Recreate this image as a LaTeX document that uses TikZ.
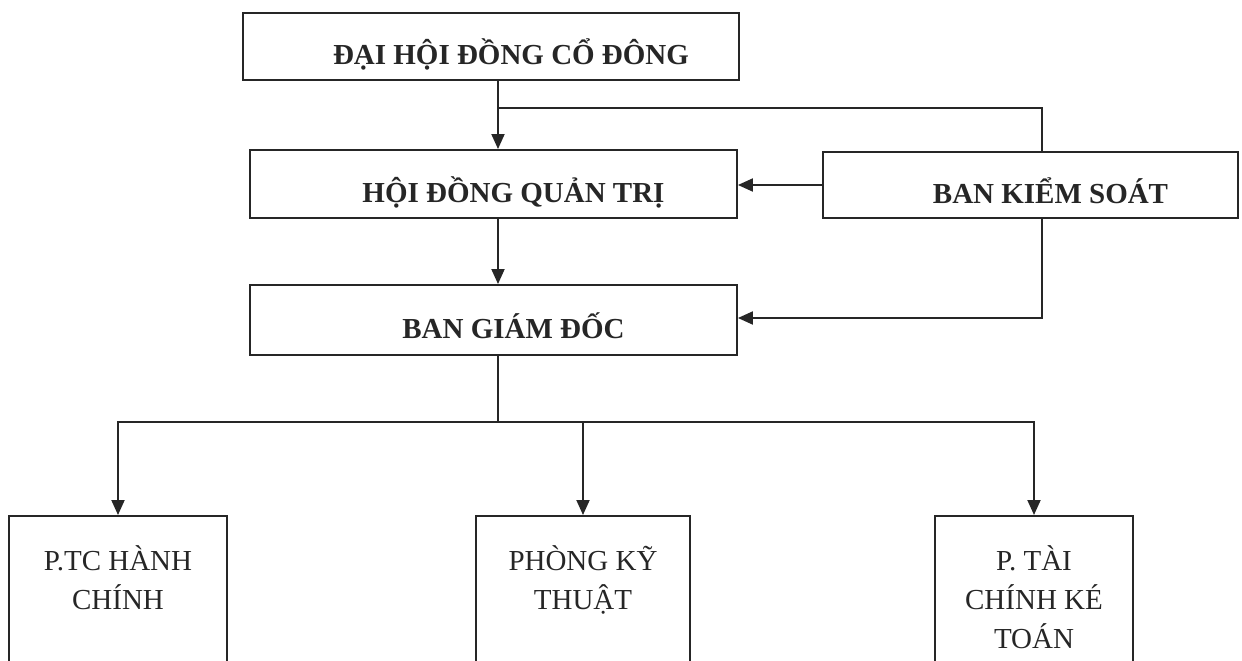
\documentclass[tikz,border=0pt]{standalone}
\usepackage{fontspec}
\setmainfont{Liberation Serif}
\usetikzlibrary{arrows.meta,positioning,calc}
\definecolor{ink}{HTML}{262626}
\newcommand{\deptname}[1]{\parbox[t][3.4cm][t]{3.6cm}{\centering\strut #1}}

\begin{document}
\begin{tikzpicture}[x=0.02cm,y=-0.02cm,color=ink,line width=1.1pt,
  >={Triangle[length=0.3cm,width=0.26cm]},
  topbox/.style={draw,rectangle,font=\fontsize{16.5}{20}\selectfont\bfseries,
    text height=21pt,text depth=0pt,execute at begin node=\hspace*{0.8cm}},
  deptbox/.style={draw,rectangle,anchor=north,inner ysep=15.9pt,
    font=\fontsize{16.5}{22}\selectfont}]
\useasboundingbox (0,0) rectangle (1242,660);
\clip (0,0) rectangle (1242,660);

\node[topbox,minimum width=9.92cm,minimum height=1.34cm] (dhdcd) at (491,46.5) {ĐẠI HỘI ĐỒNG CỔ ĐÔNG};
\node[topbox,minimum width=9.74cm,minimum height=1.36cm] (hdqt) at (493.5,184) {HỘI ĐỒNG QUẢN TRỊ};
\node[topbox,minimum width=8.3cm,minimum height=1.32cm] (bks) at (1030.5,185) {BAN KIỂM SOÁT};
\node[topbox,minimum width=9.74cm,minimum height=1.4cm] (bgd) at (493.5,320) {BAN GIÁM ĐỐC};

\node[deptbox,minimum width=4.36cm] (ptc) at (118,515) {\deptname{P.TC HÀNH\\CHÍNH}};
\node[deptbox,minimum width=4.28cm] (pkt) at (583,515) {\deptname{PHÒNG KỸ\\THUẬT}};
\node[deptbox,minimum width=3.96cm] (ptai) at (1034,515) {\deptname{P. TÀI\\CHÍNH KÉ\\TOÁN}};

\coordinate (trunk) at (498,108);
\coordinate (ret) at (1042,318);
\coordinate (fork) at (498,422);

\draw[->] (dhdcd.south -| trunk) -- (hdqt.north -| trunk);
\draw (trunk) -| (bks.north -| ret);
\draw[->] (bks.west) -- (hdqt.east |- bks.west);
\draw[->] (hdqt.south -| trunk) -- (bgd.north -| trunk);
\draw[->] (bks.south -| ret) -- (ret) -- (bgd.east |- ret);
\draw (bgd.south -| fork) -- (fork);
\foreach \d in {ptc,pkt,ptai}
  \draw[->] (fork) -| (\d.north);
\end{tikzpicture}
\end{document}
